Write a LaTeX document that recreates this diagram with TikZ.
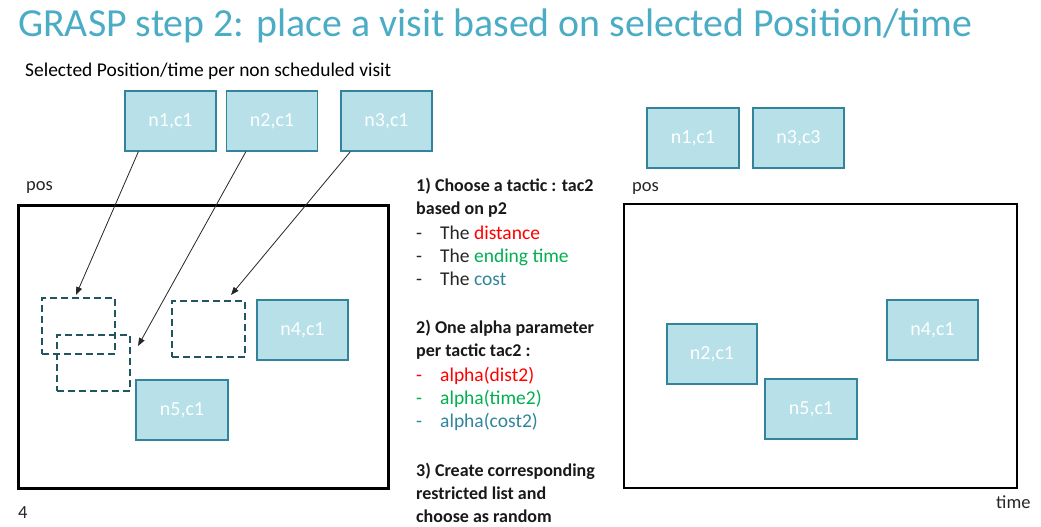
\documentclass[tikz,border=0pt]{standalone}
\usepackage{fontspec}
\setmainfont{Carlito}
\usetikzlibrary{arrows.meta,calc}
\definecolor{ttl}{HTML}{4BACC6}
\definecolor{vfill}{HTML}{B7E0E8}
\definecolor{vdraw}{HTML}{31849B}
\definecolor{dsh}{HTML}{215560}
\definecolor{cred}{HTML}{FF0000}
\definecolor{cgreen}{HTML}{00B050}
\definecolor{cteal}{HTML}{31859C}
\begin{document}
\begin{tikzpicture}[x=1pt,y=-1pt,
  visit/.style={draw=vdraw, fill=vfill, line width=1.2pt, text=white,
    font=\fontsize{20}{20}\selectfont, minimum width=91pt, minimum height=60pt, inner sep=0pt},
  ghost/.style={draw=dsh, dash pattern=on 7pt off 4pt, line width=2pt,
    minimum width=73pt, minimum height=56pt, inner sep=0pt},
  link/.style={-{Triangle[length=8pt,width=6pt]}, line width=0.8pt, black!85},
  plotframe/.style={draw=black, inner sep=0pt, anchor=north west},
  lbl/.style={font=\fontsize{18.5}{18.5}\selectfont, text=black!85, inner sep=0pt, anchor=base west},
  steptxt/.style={font=\fontsize{18}{18}\selectfont, text=black!90, inner sep=0pt, anchor=base west},
  itemtxt/.style={font=\fontsize{19.5}{19.5}\selectfont, text=black!85, inner sep=0pt, anchor=base west}]
\useasboundingbox (0,0) rectangle (1041,527);
\fill[white] (0,0) rectangle (1041,527);

% title and subtitle
\node[anchor=base west, inner sep=0pt, text=ttl] (title) at (18,37)
  {\resizebox{954pt}{!}{GRASP step 2: place a visit based on selected Position/time}};
\node[anchor=base west, inner sep=0pt, text=black] (subtitle) at (25,76)
  {\resizebox{366pt}{!}{Selected Position/time per non scheduled visit}};

% left panel
\node[lbl] (posL) at (26,190) {pos};
\node[plotframe, line width=3pt, minimum width=370pt, minimum height=283pt] (plotL) at (17,204) {};
\node[visit] (n1L) at (170.5,121) {n1,c1};
\node[visit] (n2L) at (272,121) {n2,c1};
\node[visit] (n3L) at (386.5,121) {n3,c1};
\node[ghost] (D1) at (78.5,326) {};
\node[ghost] (D2) at (93.5,363) {};
\node[ghost] (D3) at (208.5,329) {};
\node[visit] (n4L) at (302.5,330) {n4,c1};
\node[visit, minimum width=92pt] (n5L) at (182,410) {n5,c1};
\draw[link] ([xshift=14pt]n1L.south west) -- ([xshift=35pt,yshift=2pt]D1.north west);
\draw[link] ([xshift=20pt]n2L.south west) -- ([xshift=7pt,yshift=-12pt]D2.north east);
\draw[link] ([xshift=10pt]n3L.south west) -- ([xshift=60pt,yshift=5pt]D3.north west);
\node[lbl] (pagenum) at (18,518) {4};

% steps text
\node[steptxt] (l1) at (416,191) {\textbf{1) Choose a tactic : tac2}};
\node[steptxt] (l2) at (416,214) {\textbf{based on p2}};
\node[itemtxt] (d3) at (416,239) {-};
\node[itemtxt] (l3) at (440,239) {The \textcolor{cred}{distance}};
\node[itemtxt] (d4) at (416,262) {-};
\node[itemtxt] (l4) at (440,262) {The \textcolor{cgreen}{ending time}};
\node[itemtxt] (d5) at (416,285) {-};
\node[itemtxt] (l5) at (440,285) {The \textcolor{cteal}{cost}};
\node[steptxt] (l6) at (416,333) {\textbf{2) One alpha parameter}};
\node[steptxt] (l7) at (416,356) {\textbf{per tactic tac2 :}};
\node[itemtxt, text=cred] (d8) at (416,381) {-};
\node[itemtxt, text=cred] (l8) at (440,381) {alpha(dist2)};
\node[itemtxt, text=cgreen] (d9) at (416,404) {-};
\node[itemtxt, text=cgreen] (l9) at (440,404) {alpha(time2)};
\node[itemtxt, text=cteal] (d10) at (416,427) {-};
\node[itemtxt, text=cteal] (l10) at (440,427) {alpha(cost2)};
\node[steptxt] (l11) at (416,476) {\textbf{3) Create corresponding}};
\node[steptxt] (l12) at (416,499) {\textbf{restricted list and}};
\node[steptxt] (l13) at (416,522) {\textbf{choose as random}};

% right panel
\node[visit, minimum width=92pt] (n1R) at (693,138) {n1,c1};
\node[visit] (n3R) at (798.5,138) {n3,c3};
\node[lbl] (posR) at (632,191) {pos};
\node[plotframe, line width=2.2pt, minimum width=393pt, minimum height=284pt] (plotR) at (623,203) {};
\node[visit, minimum width=90pt] (n2R) at (712,354) {n2,c1};
\node[visit, minimum width=92pt] (n5R) at (811,409) {n5,c1};
\node[visit] (n4R) at (932.5,330) {n4,c1};
\node[lbl] (timeR) at (996,508) {time};
\end{tikzpicture}
\end{document}
